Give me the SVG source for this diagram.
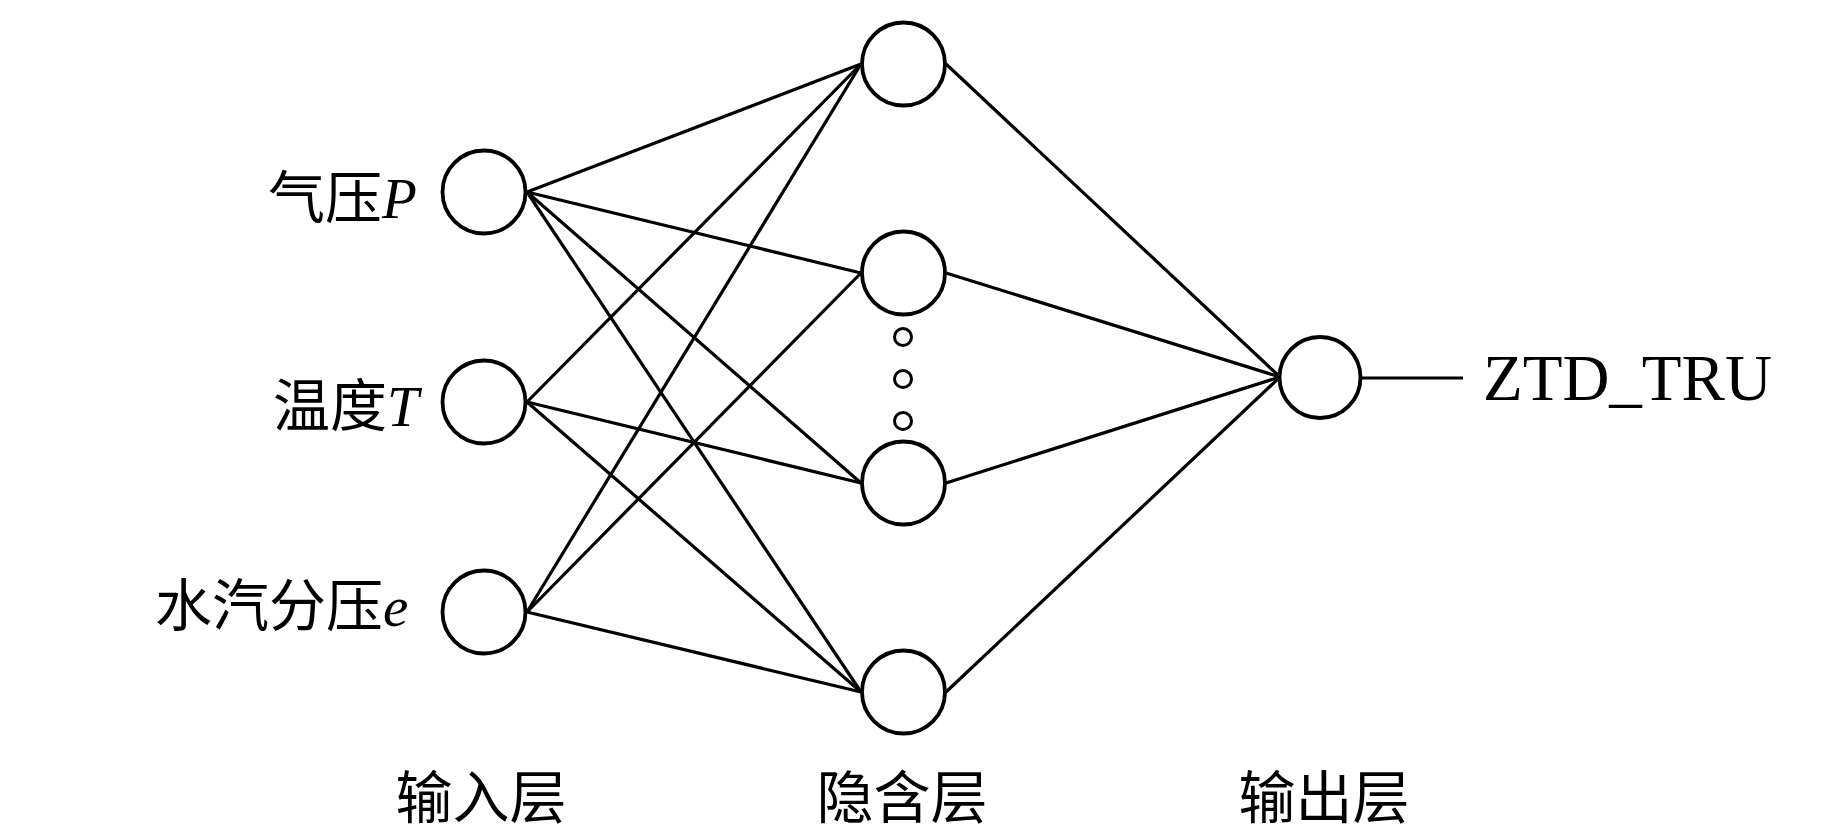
<svg xmlns="http://www.w3.org/2000/svg" width="1843" height="827" viewBox="0 0 1843 827">
<style>
.node{fill:#fff;stroke:#000;stroke-width:3.8}
.dot{fill:none;stroke:#000;stroke-width:3}
.edge{stroke:#000;stroke-width:3.2;fill:none}
.lbl{font-family:"Liberation Serif","Noto Sans CJK SC",serif;font-size:57px;fill:#000}
.it{font-style:italic}
.out{font-family:"Liberation Serif",serif;font-size:65px;fill:#000}
</style>
<rect width="1843" height="827" fill="#fff"/>
<g id="connectors">
<line class="edge" x1="527" y1="192" x2="861" y2="64"/>
<line class="edge" x1="527" y1="192" x2="861" y2="273"/>
<line class="edge" x1="527" y1="192" x2="861" y2="483"/>
<line class="edge" x1="527" y1="192" x2="861" y2="692"/>
<line class="edge" x1="527" y1="402" x2="861" y2="64"/>
<line class="edge" x1="527" y1="402" x2="861" y2="483"/>
<line class="edge" x1="527" y1="402" x2="861" y2="692"/>
<line class="edge" x1="527" y1="612" x2="861" y2="64"/>
<line class="edge" x1="527" y1="612" x2="861" y2="273"/>
<line class="edge" x1="527" y1="612" x2="861" y2="692"/>
<line class="edge" x1="946" y1="64" x2="1280" y2="377"/>
<line class="edge" x1="946" y1="273" x2="1280" y2="377"/>
<line class="edge" x1="946" y1="483" x2="1280" y2="377"/>
<line class="edge" x1="946" y1="692" x2="1280" y2="377"/>
<line class="edge" x1="1360" y1="378" x2="1463" y2="378"/>
</g>
<g id="in1"><circle class="node" cx="484" cy="192" r="41.5"/><text class="lbl" x="268" y="218">气压<tspan class="it">P</tspan></text></g>
<g id="in2"><circle class="node" cx="484" cy="402" r="41.5"/><text class="lbl" x="273" y="426">温度<tspan class="it">T</tspan></text></g>
<g id="in3"><circle class="node" cx="484" cy="612" r="41.5"/><text class="lbl" x="155" y="626">水汽分压<tspan class="it">e</tspan></text></g>
<g id="h1"><circle class="node" cx="903.5" cy="64" r="41.5"/></g>
<g id="h2"><circle class="node" cx="903.5" cy="273" r="41.5"/></g>
<g id="h3"><circle class="node" cx="903.5" cy="483" r="41.5"/></g>
<g id="h4"><circle class="node" cx="903.5" cy="692" r="41.5"/></g>
<g id="dots"><circle class="dot" cx="903" cy="337" r="8.5"/><circle class="dot" cx="903" cy="379" r="8.5"/><circle class="dot" cx="903" cy="421" r="8.5"/></g>
<g id="out"><circle class="node" cx="1320" cy="377.5" r="40.5"/><text class="out" x="1483" y="400">ZTD_TRU</text></g>
<g id="layer-labels">
<text class="lbl" x="481" y="818" text-anchor="middle">输入层</text>
<text class="lbl" x="902" y="818" text-anchor="middle">隐含层</text>
<text class="lbl" x="1324" y="818" text-anchor="middle">输出层</text>
</g>
</svg>
